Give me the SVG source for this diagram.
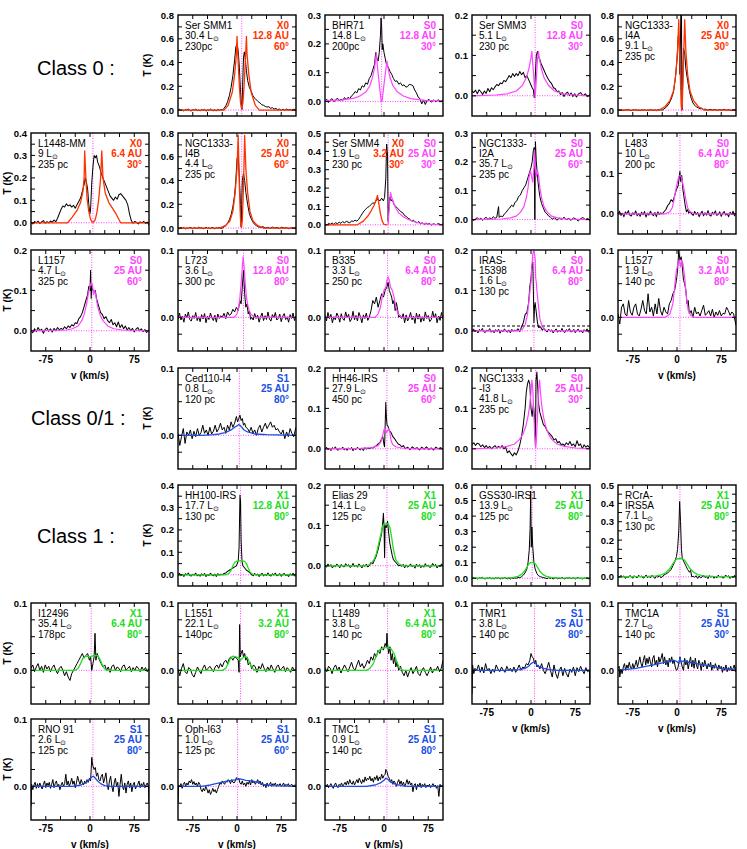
<svg xmlns="http://www.w3.org/2000/svg" xmlns:xlink="http://www.w3.org/1999/xlink" width="747" height="849" viewBox="0 0 747 849">
<style>
.b,.r,.m,.g,.u,.z,.k{fill:none;stroke-width:1;vector-effect:non-scaling-stroke;stroke-linejoin:round}
.b{stroke:#000}
.r{stroke:#ff3300;stroke-width:1.3}
.m{stroke:#ff44ff;stroke-width:1.2}
.g{stroke:#22dd22;stroke-width:1.3}
.u{stroke:#1a4fe6;stroke-width:1.3}
.z{stroke:#ff44ff;stroke-dasharray:1 1.5}
.k{stroke:#000;stroke-dasharray:3 2}
.box{fill:none;stroke:#000;stroke-width:1.4}
.tk{fill:none;stroke:#000;stroke-width:1}
text{font-family:"Liberation Sans",Arial,sans-serif}
.n{font-size:10px;fill:#000}
.mr{font-size:10px;font-weight:bold;text-anchor:end}
.tl{font-size:9.5px;font-weight:bold;text-anchor:end}
.ax{font-size:10px;font-weight:bold;text-anchor:middle}
.cl{font-size:20px}
.cr{fill:#ff3300}.cm{fill:#ff44ff}.cg{fill:#22dd22}.cu{fill:#1a4fe6}
</style>
<defs>
<path id="nL" class="b" d="M-100 0.3 L-97.5 -0.8 L-95 0.5 L-92.5 -0.2 L-90 0.9 L-87.5 -0.6 L-85 0.1 L-82.5 -1 L-80 0.4 L-77.5 0.7 L-75 -0.3 L-72.5 0.2 L-70 -0.9 L-67.5 0.6 L-65 -0.1 L-62.5 0.8 L-60 -0.5 L-57.5 0.3 L-55 -0.7 L-52.5 1 L-50 -0.2 L-47.5 0.4 L-45 -0.8 L-42.5 0.1 L-40 0.6 L-37.5 -0.4 L-35 0.9 L-32.5 -0.6 L-30 0.2 L-27.5 -0.3 L-25 0"/>
<path id="nR" class="b" d="M25 0 L27.5 0.5 L30 -0.7 L32.5 0.2 L35 -0.4 L37.5 0.9 L40 -0.1 L42.5 -0.8 L45 0.6 L47.5 -0.3 L50 0.4 L52.5 -1 L55 0.3 L57.5 0.7 L60 -0.5 L62.5 0.1 L65 -0.9 L67.5 0.5 L70 0.2 L72.5 -0.6 L75 0.8 L77.5 -0.2 L80 -0.7 L82.5 0.4 L85 -0.1 L87.5 0.9 L90 -0.5 L92.5 0.2 L95 -0.8 L97.5 0.6 L100 -0.3"/>
<path id="xt" class="tk" d="M14.75 0v4M29.5 0v4M44.25 0v4M59 0v4M73.75 0v4M88.5 0v4M103.25 0v4M14.75 101v-4M29.5 101v-4M44.25 101v-4M59 101v-4M73.75 101v-4M88.5 101v-4M103.25 101v-4"/>
<path id="yt1" class="tk" d="M0 16.8h4M0 33.7h4M0 50.5h4M0 67.3h4M0 84.2h4M118 16.8h-4M118 33.7h-4M118 50.5h-4M118 67.3h-4M118 84.2h-4"/>
<path id="yt2" class="tk" d="M0 20.2h4M0 40.4h4M0 60.6h4M0 80.8h4M118 20.2h-4M118 40.4h-4M118 60.6h-4M118 80.8h-4"/>
<path id="yt3" class="tk" d="M0 14.4h4M0 28.9h4M0 43.3h4M0 57.7h4M0 72.1h4M0 86.6h4M118 14.4h-4M118 28.9h-4M118 43.3h-4M118 57.7h-4M118 72.1h-4M118 86.6h-4"/>
<path id="yt4" class="tk" d="M0 11.2h4M0 22.4h4M0 33.7h4M0 44.9h4M0 56.1h4M0 67.3h4M0 78.6h4M0 89.8h4M118 11.2h-4M118 22.4h-4M118 33.7h-4M118 44.9h-4M118 56.1h-4M118 67.3h-4M118 78.6h-4M118 89.8h-4"/>
<path id="yt5" class="tk" d="M0 9.2h4M0 18.4h4M0 27.5h4M0 36.7h4M0 45.9h4M0 55.1h4M0 64.3h4M0 73.5h4M0 82.6h4M0 91.8h4M118 9.2h-4M118 18.4h-4M118 27.5h-4M118 36.7h-4M118 45.9h-4M118 55.1h-4M118 64.3h-4M118 73.5h-4M118 82.6h-4M118 91.8h-4"/>
<path id="yt6" class="tk" d="M0 15.5h4M0 31.1h4M0 46.6h4M0 62.2h4M0 77.7h4M0 93.2h4M118 15.5h-4M118 31.1h-4M118 46.6h-4M118 62.2h-4M118 77.7h-4M118 93.2h-4"/>
<path id="yt8" class="tk" d="M0 11.9h4M0 23.8h4M0 35.6h4M0 47.5h4M0 59.4h4M0 71.3h4M0 83.2h4M0 95.1h4M118 11.9h-4M118 23.8h-4M118 35.6h-4M118 47.5h-4M118 59.4h-4M118 71.3h-4M118 83.2h-4M118 95.1h-4"/>
</defs>

<text class="cl" x="37" y="75">Class 0 :</text>
<text class="cl" x="31" y="425">Class 0/1 :</text>
<text class="cl" x="37" y="543">Class 1 :</text>

<g id="connectors"></g>

<!-- Row 0 -->
<g id="p-sersmm1" transform="translate(178,15)">
<svg width="118" height="101" viewBox="-100 -800 200 850" preserveAspectRatio="none">
<path class="z" d="M-100 0H100M8 -900V60"/>
<use href="#nL" transform="scale(1,10)"/>
<path class="b" d="M-25 0 L-22 -15 L-19 -35 L-16 -70 L-13 -120 L-10 -190 L-7 -290 L-4 -420 L-2 -530 L0 -560 L2 -500 L4 -360 L6 -150 L7.5 -20 L8.5 -5 L9.5 -200 L11 -440 L12.5 -490 L14 -430 L16 -330 L18 -250 L21 -190 L24 -160 L27 -120 L30 -100 L33 -85 L36 -70 L39 -60 L42 -45 L45 -40 L48 -30 L51 -25 L54 -28 L57 -15 L60 -20 L63 -8 L66 -14 L69 -2 L72 -10 L75 5 L78 -8 L81 2 L84 -9 L87 0 L90 -6 L93 3 L96 -7 L100 -2"/>
<path class="r" d="M-100 0 H-22 L-15 -40 L-8 -150 L-4 -300 L-1 -470 L0 -620 L2 -400 L4 -200 L6 -60 L8 -10 L10 -60 L12 -200 L14 -400 L16 -620 L17 -470 L20 -300 L24 -150 L31 -40 L38 0 H100"/>
</svg>
<rect class="box" width="118" height="101"/><use href="#xt"/><use href="#yt8"/>
<text class="tl"><tspan x="-4" y="3.5">0.8</tspan><tspan x="-4" y="27.3">0.6</tspan><tspan x="-4" y="51">0.4</tspan><tspan x="-4" y="74.8">0.2</tspan><tspan x="-4" y="98.6">0.0</tspan></text>
<text class="ax" transform="translate(-27,50) rotate(-90)">T (K)</text>
<text class="n" x="7" y="14">Ser SMM1</text><text class="n" x="7" y="24">30.4 L<tspan dy="2" font-size="7">⊙</tspan></text><text class="n" x="7" y="35">230pc</text>
<text class="mr cr" x="111" y="14">X0</text><text class="mr cr" x="111" y="24">12.8 AU</text><text class="mr cr" x="111" y="35">60°</text>
</g>

<g id="p-bhr71" transform="translate(325,15)">
<svg width="118" height="101" viewBox="-100 -300 200 350" preserveAspectRatio="none">
<path class="z" d="M-100 0H100M-4 -400V60"/>
<path class="b" d="M-100 -2 L-97 -8 L-94 3 L-91 -6 L-88 -10 L-85 0 L-82 -5 L-79 -12 L-76 -3 L-73 -8 L-70 -4 L-67 -14 L-64 -6 L-61 -15 L-58 -10 L-55 -20 L-52 -25 L-49 -35 L-46 -30 L-43 -45 L-40 -40 L-37 -55 L-34 -50 L-31 -65 L-28 -60 L-25 -80 L-22 -90 L-19 -110 L-16 -130 L-14 -170 L-12 -150 L-10 -140 L-8 -170 L-6 -230 L-5 -290 L-4 -260 L-3 -180 L-2 -200 L0 -170 L2 -150 L4 -130 L7 -120 L10 -105 L13 -95 L16 -80 L19 -70 L22 -72 L25 -60 L28 -65 L31 -55 L34 -58 L37 -50 L40 -52 L43 -60 L46 -58 L49 -55 L52 -40 L55 -30 L58 -15 L61 -10 L64 8 L67 -5 L70 10 L73 -3 L76 -8 L80 2 L84 -5 L88 0 L92 -6 L96 -2 L100 -4"/>
<path class="m" d="M-100 -3 L-70 -6 L-50 -12 L-40 -20 L-30 -35 L-24 -55 L-20 -80 L-16 -115 L-14 -150 L-13 -170 L-11 -120 L-8 -60 L-5 -5 L-4 0 L-3 -5 L0 -60 L3 -110 L5 -140 L7 -115 L10 -85 L15 -55 L22 -35 L32 -20 L45 -10 L70 -4 L100 -2"/>
</svg>
<rect class="box" width="118" height="101"/><use href="#xt"/><use href="#yt3"/>
<text class="tl"><tspan x="-4" y="3.5">0.3</tspan><tspan x="-4" y="32.4">0.2</tspan><tspan x="-4" y="61.2">0.1</tspan><tspan x="-4" y="90.1">0.0</tspan></text>
<text class="n" x="7" y="14">BHR71</text><text class="n" x="7" y="24">14.8 L<tspan dy="2" font-size="7">⊙</tspan></text><text class="n" x="7" y="35">200pc</text>
<text class="mr cm" x="111" y="14">S0</text><text class="mr cm" x="111" y="24">12.8 AU</text><text class="mr cm" x="111" y="35">30°</text>
</g>

<g id="p-sersmm3" transform="translate(472,15)">
<svg width="118" height="101" viewBox="-100 -200 200 250" preserveAspectRatio="none">
<path class="z" d="M-100 0H100M7 -300V60"/>
<path class="b" d="M-100 -12 L-97 -8 L-94 -14 L-91 -5 L-88 -15 L-85 -10 L-82 -3 L-79 -12 L-76 -6 L-73 -18 L-70 -10 L-67 -20 L-64 -15 L-61 -22 L-58 -28 L-55 -25 L-52 -32 L-49 -30 L-46 -38 L-43 -35 L-40 -42 L-37 -50 L-34 -45 L-31 -55 L-28 -48 L-25 -55 L-22 -50 L-19 -60 L-16 -52 L-13 -58 L-10 -45 L-7 -50 L-4 -40 L-1 -30 L2 -20 L4 -15 L5.5 5 L7 -40 L9 -100 L11 -110 L13 -95 L15 -90 L17 -80 L20 -70 L23 -60 L26 -50 L29 -42 L32 -35 L35 -30 L38 -20 L41 -18 L44 -10 L47 -12 L50 -3 L53 -8 L56 2 L59 -6 L62 -9 L65 -1 L68 -7 L71 2 L74 -5 L77 3 L80 -4 L84 -8 L88 0 L92 -5 L96 2 L100 -3"/>
<path class="m" d="M-100 0 L-60 -2 L-40 -5 L-25 -12 L-15 -25 L-8 -45 L-3 -70 L0 -95 L1.5 -110 L3 -80 L5 -40 L7 5 L9 -40 L11 -90 L12.5 -110 L14 -95 L17 -70 L22 -45 L30 -25 L40 -12 L55 -5 L75 -2 L100 0"/>
</svg>
<rect class="box" width="118" height="101"/><use href="#xt"/><use href="#yt2"/>
<text class="tl"><tspan x="-4" y="3.5">0.2</tspan><tspan x="-4" y="43.9">0.1</tspan><tspan x="-4" y="84.3">0.0</tspan></text>
<text class="n" x="7" y="14">Ser SMM3</text><text class="n" x="7" y="24">5.1 L<tspan dy="2" font-size="7">⊙</tspan></text><text class="n" x="7" y="35">230 pc</text>
<text class="mr cm" x="111" y="14">S0</text><text class="mr cm" x="111" y="24">12.8 AU</text><text class="mr cm" x="111" y="35">30°</text>
</g>

<g id="p-ngc1333i4a" transform="translate(618,15)">
<svg width="118" height="101" viewBox="-100 -800 200 850" preserveAspectRatio="none">
<path class="z" d="M-100 0H100M8 -900V60"/>
<use href="#nL" transform="scale(1,6)"/>
<path class="b" d="M-25 0 L-22 -10 L-18 -25 L-14 -50 L-10 -90 L-6 -150 L-3 -260 L0 -420 L2 -620 L3.5 -600 L5 -300 L6.5 -820 L7.5 -820 L8.5 0 L10 -300 L11 -520 L13 -480 L15 -350 L18 -250 L21 -160 L24 -100 L27 -60 L30 -40 L33 -25 L36 -20 L39 -10 L42 -15 L45 -5 L48 -8 L52 2 L56 -6 L60 0 L64 -5 L68 3 L72 -4 L76 1 L80 -6 L84 2 L88 -3 L92 4 L96 -5 L100 0"/>
<path class="r" d="M-100 0 L-30 0 L-20 -30 L-12 -80 L-6 -160 L-2 -300 L1 -500 L3 -760 L5 -400 L7 -50 L8 0 L9 -50 L11 -400 L13 -760 L15 -500 L18 -300 L22 -160 L28 -80 L36 -30 L46 0 L100 0"/>
</svg>
<rect class="box" width="118" height="101"/><use href="#xt"/><use href="#yt8"/>
<text class="tl"><tspan x="-4" y="3.5">0.8</tspan><tspan x="-4" y="27.3">0.6</tspan><tspan x="-4" y="51">0.4</tspan><tspan x="-4" y="74.8">0.2</tspan><tspan x="-4" y="98.6">0.0</tspan></text>
<text class="n" x="7" y="14">NGC1333-</text><text class="n" x="7" y="24">I4A</text><text class="n" x="7" y="34">9.1 L<tspan dy="2" font-size="7">⊙</tspan></text><text class="n" x="7" y="45">235 pc</text>
<text class="mr cr" x="111" y="14">X0</text><text class="mr cr" x="111" y="24">25 AU</text><text class="mr cr" x="111" y="35">30°</text>
</g>

<!-- Row 1 -->
<g id="p-l1448mm" transform="translate(31,133)">
<svg width="118" height="101" viewBox="-100 -400 200 450" preserveAspectRatio="none">
<path class="z" d="M-100 0H100M5 -500V60"/>
<path class="b" d="M-100 -2 L-97 5 L-94 -6 L-91 0 L-88 -8 L-85 3 L-82 -4 L-79 -10 L-76 2 L-73 -5 L-70 0 L-67 -8 L-64 -3 L-61 -12 L-58 -5 L-55 -20 L-52 -40 L-49 -60 L-46 -75 L-43 -70 L-40 -85 L-37 -75 L-34 -80 L-31 -70 L-28 -78 L-25 -65 L-22 -80 L-19 -95 L-16 -110 L-13 -140 L-10 -170 L-8 -200 L-6 -180 L-4 -150 L-2 -80 L0 -40 L1 -60 L3 -180 L5 -250 L7 -300 L9 -290 L11 -300 L13 -270 L16 -250 L19 -220 L22 -200 L25 -180 L28 -160 L31 -140 L34 -120 L37 -110 L40 -100 L43 -115 L46 -105 L49 -125 L52 -130 L55 -120 L58 -110 L61 -100 L64 -80 L67 -40 L70 -10 L73 2 L76 -6 L79 -2 L82 5 L85 -4 L88 0 L91 -6 L94 2 L97 -3 L100 10"/>
<path class="r" d="M-100 0 L-38 0 L-30 -25 L-22 -55 L-16 -90 L-12 -140 L-10 -200 L-9 -320 L-7 -200 L-5 -110 L-2 -50 L1 -15 L4 -3 L6 -3 L9 -15 L12 -50 L15 -110 L18 -200 L20 -320 L22 -200 L26 -130 L32 -90 L38 -65 L44 -40 L48 -20 L52 0 L100 0"/>
</svg>
<rect class="box" width="118" height="101"/><use href="#xt"/><use href="#yt4"/>
<text class="tl"><tspan x="-4" y="3.5">0.4</tspan><tspan x="-4" y="25.9">0.3</tspan><tspan x="-4" y="48.4">0.2</tspan><tspan x="-4" y="70.8">0.1</tspan><tspan x="-4" y="93.3">0.0</tspan></text>
<text class="ax" transform="translate(-20,50) rotate(-90)">T (K)</text>
<text class="n" x="7" y="14">L1448-MM</text><text class="n" x="7" y="24">9 L<tspan dy="2" font-size="7">⊙</tspan></text><text class="n" x="7" y="35">235 pc</text>
<text class="mr cr" x="111" y="14">X0</text><text class="mr cr" x="111" y="24">6.4 AU</text><text class="mr cr" x="111" y="35">30°</text>
</g>

<g id="p-ngc1333i4b" transform="translate(178,133)">
<svg width="118" height="101" viewBox="-100 -800 200 850" preserveAspectRatio="none">
<path class="z" d="M-100 0H100M8 -900V60"/>
<use href="#nR" transform="scale(-1,8)"/>
<path class="b" d="M-25 0 L-22 -10 L-19 -20 L-16 -40 L-13 -70 L-10 -110 L-7 -180 L-4 -280 L-2 -400 L0 -580 L2 -620 L4 -420 L6 -200 L7 -10 L8 -200 L9 -400 L11 -460 L13 -400 L15 -300 L18 -200 L21 -120 L24 -80 L27 -50 L30 -30 L33 -20 L36 -10 L40 -5 L44 -12 L48 0 L52 -6 L56 3 L60 -8 L64 0 L68 -5 L72 4 L76 -7 L80 1 L84 -4 L88 6 L92 -3 L96 2 L100 -5"/>
<path class="r" d="M-100 0 L-30 0 L-20 -20 L-12 -60 L-7 -140 L-3 -300 L0 -500 L2 -780 L4 -350 L6 -60 L7.5 -5 L9 -60 L11 -350 L13 -780 L15 -500 L18 -300 L22 -140 L27 -60 L35 -20 L45 0 L100 0"/>
</svg>
<rect class="box" width="118" height="101"/><use href="#xt"/><use href="#yt8"/>
<text class="tl"><tspan x="-4" y="3.5">0.8</tspan><tspan x="-4" y="27.3">0.6</tspan><tspan x="-4" y="51">0.4</tspan><tspan x="-4" y="74.8">0.2</tspan><tspan x="-4" y="98.6">0.0</tspan></text>
<text class="n" x="7" y="14">NGC1333-</text><text class="n" x="7" y="24">I4B</text><text class="n" x="7" y="34">4.4 L<tspan dy="2" font-size="7">⊙</tspan></text><text class="n" x="7" y="45">235 pc</text>
<text class="mr cr" x="111" y="14">X0</text><text class="mr cr" x="111" y="24">25 AU</text><text class="mr cr" x="111" y="35">60°</text>
</g>

<g id="p-sersmm4" transform="translate(325,133)">
<svg width="118" height="101" viewBox="-100 -500 200 550" preserveAspectRatio="none">
<path class="z" d="M-100 0H100M7 -600V60"/>
<path class="b" d="M-100 -5 L-97 2 L-94 -8 L-91 -3 L-88 -10 L-85 -2 L-82 -12 L-79 -5 L-76 -15 L-73 -8 L-70 -18 L-67 -10 L-64 -20 L-61 -15 L-58 -10 L-55 -22 L-52 -18 L-49 -25 L-46 -20 L-43 -30 L-40 -45 L-37 -60 L-34 -75 L-31 -85 L-28 -95 L-25 -100 L-22 -110 L-19 -120 L-16 -115 L-13 -135 L-10 -140 L-7 -130 L-4 -145 L-1 -130 L1 -150 L3 -250 L4.5 -440 L6 -380 L7 -20 L8 -80 L10 -150 L12 -130 L14 -140 L17 -110 L20 -100 L23 -90 L26 -80 L29 -70 L32 -65 L35 -50 L38 -45 L41 -35 L44 -30 L47 -20 L50 -25 L53 -15 L56 -10 L59 -18 L62 -5 L65 -12 L68 -2 L71 -10 L74 -3 L77 -8 L80 2 L84 -6 L88 0 L92 -7 L96 -1 L100 -4"/>
<path class="r" d="M-100 0 L-45 0 L-35 -20 L-28 -45 L-22 -75 L-17 -105 L-13 -140 L-11 -160 L-9 -120 L-6 -60 L-3 -20 L0 -2 L5 0"/>
<path class="m" d="M5 0 L7 -5 L9 -100 L11 -175 L13 -150 L16 -120 L20 -90 L25 -65 L32 -45 L40 -30 L50 -18 L60 -10 L75 -4 L100 0"/>
</svg>
<rect class="box" width="118" height="101"/><use href="#xt"/><use href="#yt5"/>
<text class="tl"><tspan x="-4" y="3.5">0.5</tspan><tspan x="-4" y="21.9">0.4</tspan><tspan x="-4" y="40.2">0.3</tspan><tspan x="-4" y="58.6">0.2</tspan><tspan x="-4" y="77">0.1</tspan><tspan x="-4" y="95.3">0.0</tspan></text>
<text class="n" x="7" y="14">Ser SMM4</text><text class="n" x="7" y="24">1.9 L<tspan dy="2" font-size="7">⊙</tspan></text><text class="n" x="7" y="35">230 pc</text>
<text class="mr cr" x="79" y="14">X0</text><text class="mr cr" x="79" y="24">3.2 AU</text><text class="mr cr" x="79" y="35">30°</text>
<text class="mr cm" x="111" y="14">S0</text><text class="mr cm" x="111" y="24">25 AU</text><text class="mr cm" x="111" y="35">30°</text>
</g>

<g id="p-ngc1333i2a" transform="translate(472,133)">
<svg width="118" height="101" viewBox="-100 -300 200 350" preserveAspectRatio="none">
<path class="z" d="M-100 0H100M7 -400V60"/>
<path class="b" d="M-100 -2 L-97 4 L-94 -3 L-91 -6 L-88 0 L-85 -5 L-82 3 L-79 -4 L-76 -8 L-73 0 L-70 -6 L-67 -2 L-64 -10 L-61 -4 L-58 -8 L-55 -45 L-54 -8 L-51 -12 L-48 -10 L-45 -20 L-42 -25 L-39 -35 L-36 -40 L-33 -50 L-30 -45 L-27 -60 L-24 -65 L-21 -80 L-18 -85 L-15 -100 L-12 -110 L-9 -120 L-6 -140 L-3 -160 L0 -180 L2 -200 L4 -240 L5.5 -250 L6.5 0 L7.5 -270 L9 -200 L11 -150 L13 -110 L15 -80 L18 -55 L21 -40 L24 -25 L27 -20 L30 -12 L33 -8 L36 -2 L40 -6 L44 2 L48 -5 L52 -1 L56 -8 L60 0 L64 -4 L68 3 L72 -6 L76 -2 L80 5 L84 -3 L88 -7 L92 0 L96 -4 L100 2"/>
<path class="m" d="M-100 0 L-50 -2 L-35 -6 L-25 -12 L-18 -25 L-12 -45 L-8 -75 L-5 -110 L-3 -150 L-1 -170 L1 -150 L3 -130 L5 -180 L6 -240 L7.5 -180 L9 -150 L11 -170 L13 -150 L15 -110 L18 -75 L22 -45 L28 -25 L35 -12 L45 -6 L60 -2 L100 0"/>
</svg>
<rect class="box" width="118" height="101"/><use href="#xt"/><use href="#yt3"/>
<text class="tl"><tspan x="-4" y="3.5">0.3</tspan><tspan x="-4" y="32.4">0.2</tspan><tspan x="-4" y="61.2">0.1</tspan><tspan x="-4" y="90.1">0.0</tspan></text>
<text class="n" x="7" y="14">NGC1333-</text><text class="n" x="7" y="24">I2A</text><text class="n" x="7" y="34">35.7 L<tspan dy="2" font-size="7">⊙</tspan></text><text class="n" x="7" y="45">235 pc</text>
<text class="mr cm" x="111" y="14">S0</text><text class="mr cm" x="111" y="24">25 AU</text><text class="mr cm" x="111" y="35">60°</text>
</g>

<g id="p-l483" transform="translate(618,133)">
<svg width="118" height="101" viewBox="-100 -200 200 250" preserveAspectRatio="none">
<path class="z" d="M-100 0H100M5 -300V60"/>
<use href="#nL" transform="scale(1,8)"/><use href="#nR" transform="scale(1,8)"/>
<path class="b" d="M-25 0 L-22 -5 L-19 -10 L-16 -20 L-13 -25 L-10 -35 L-7 -30 L-4 -45 L-1 -60 L2 -70 L4 -95 L5 -105 L6 -80 L8 -95 L10 -60 L12 -40 L14 -20 L16 -5 L18 -10 L20 -2 L22 -5 L25 0"/>
<path class="m" d="M-100 0 L-20 0 L-12 -5 L-8 -15 L-5 -35 L-2 -60 L1 -80 L3 -92 L5 -95 L7 -92 L9 -80 L12 -60 L15 -35 L18 -15 L22 -5 L30 0 L100 0"/>
</svg>
<rect class="box" width="118" height="101"/><use href="#xt"/><use href="#yt2"/>
<text class="tl"><tspan x="-4" y="3.5">0.2</tspan><tspan x="-4" y="43.9">0.1</tspan><tspan x="-4" y="84.3">0.0</tspan></text>
<text class="n" x="7" y="14">L483</text><text class="n" x="7" y="24">10 L<tspan dy="2" font-size="7">⊙</tspan></text><text class="n" x="7" y="35">200 pc</text>
<text class="mr cm" x="111" y="14">S0</text><text class="mr cm" x="111" y="24">6.4 AU</text><text class="mr cm" x="111" y="35">80°</text>
</g>

<!-- Row 2 -->
<g id="p-l1157" transform="translate(31,250)">
<svg width="118" height="101" viewBox="-100 -200 200 250" preserveAspectRatio="none">
<path class="z" d="M-100 0H100M3 -300V60"/>
<path class="b" d="M-100 -2 L-97 5 L-94 -5 L-91 2 L-88 -8 L-85 0 L-82 -4 L-79 6 L-76 -3 L-73 -7 L-70 1 L-67 -5 L-64 3 L-61 -6 L-58 0 L-55 -8 L-52 -2 L-49 -6 L-46 -3 L-43 -10 L-40 -5 L-37 -12 L-34 -8 L-31 -15 L-28 -12 L-25 -20 L-22 -18 L-19 -30 L-16 -35 L-13 -45 L-10 -60 L-7 -75 L-4 -90 L-2 -110 L0 -100 L1 -150 L2 -80 L3 -110 L5 -100 L7 -95 L9 -100 L11 -80 L13 -70 L15 -60 L18 -45 L21 -40 L24 -30 L27 -35 L30 -25 L33 -20 L36 -28 L39 -15 L42 -20 L45 -10 L48 -22 L51 -8 L54 -15 L57 -5 L60 -12 L63 -2 L66 -8 L69 0 L72 -6 L75 3 L78 -4 L81 -8 L84 0 L87 -5 L90 2 L93 -3 L96 4 L100 -2"/>
<path class="m" d="M-100 0 L-40 -2 L-30 -5 L-20 -12 L-14 -25 L-10 -40 L-6 -65 L-3 -90 L0 -110 L2 -120 L4 -115 L6 -90 L8 -100 L10 -85 L13 -60 L17 -40 L22 -25 L30 -12 L40 -5 L55 -2 L100 0"/>
</svg>
<rect class="box" width="118" height="101"/><use href="#xt"/><use href="#yt2"/>
<text class="tl"><tspan x="-4" y="3.5">0.2</tspan><tspan x="-4" y="43.9">0.1</tspan><tspan x="-4" y="84.3">0.0</tspan></text>
<text class="ax" transform="translate(-20,50) rotate(-90)">T (K)</text>
<text class="ax"><tspan x="14.75" y="113">-75</tspan><tspan x="59" y="113">0</tspan><tspan x="103.25" y="113">75</tspan></text><text class="ax" x="59" y="129">v (km/s)</text>
<text class="n" x="7" y="14">L1157</text><text class="n" x="7" y="24">4.7 L<tspan dy="2" font-size="7">⊙</tspan></text><text class="n" x="7" y="35">325 pc</text>
<text class="mr cm" x="111" y="14">S0</text><text class="mr cm" x="111" y="24">25 AU</text><text class="mr cm" x="111" y="35">60°</text>
</g>

<g id="p-l723" transform="translate(178,250)">
<svg width="118" height="101" viewBox="-100 -100 200 150" preserveAspectRatio="none">
<path class="z" d="M-100 0H100M11 -200V60"/>
<use href="#nL" transform="scale(1,8)"/><use href="#nR" transform="scale(1,8)"/>
<path class="b" d="M-25 0 L-22 -6 L-19 2 L-16 -8 L-13 -3 L-10 -5 L-7 -12 L-4 -8 L-1 -15 L2 -10 L5 -25 L7 -20 L9 -45 L11 -70 L13 -35 L15 -15 L17 -20 L19 -5 L21 -10 L23 3 L25 0"/>
<path class="m" d="M-100 0 L-5 0 L0 -5 L3 -15 L5 -30 L7 -50 L9 -75 L10.5 -90 L12 -75 L14 -50 L16 -30 L19 -15 L23 -5 L30 0 L100 0"/>
</svg>
<rect class="box" width="118" height="101"/><use href="#xt"/><use href="#yt1"/>
<text class="tl"><tspan x="-4" y="3.5">0.1</tspan><tspan x="-4" y="70.8">0.0</tspan></text>
<text class="n" x="7" y="14">L723</text><text class="n" x="7" y="24">3.6 L<tspan dy="2" font-size="7">⊙</tspan></text><text class="n" x="7" y="35">300 pc</text>
<text class="mr cm" x="111" y="14">S0</text><text class="mr cm" x="111" y="24">12.8 AU</text><text class="mr cm" x="111" y="35">80°</text>
</g>

<g id="p-b335" transform="translate(325,250)">
<svg width="118" height="101" viewBox="-100 -100 200 150" preserveAspectRatio="none">
<path class="z" d="M-100 0H100M6 -200V60"/>
<use href="#nR" transform="scale(-1,9)"/><use href="#nL" transform="scale(-1,9)"/>
<path class="b" d="M-25 0 L-22 -10 L-19 -25 L-16 -20 L-13 -30 L-10 -15 L-7 -25 L-4 -35 L-1 -30 L2 -40 L5 -45 L7 -52 L9 -40 L11 -35 L13 -30 L15 -20 L17 -25 L19 -10 L21 -22 L23 -12 L25 0"/>
<path class="m" d="M-100 0 L-15 0 L-10 -5 L-6 -15 L-3 -30 L0 -40 L3 -45 L5 -55 L7 -60 L9 -55 L11 -45 L14 -40 L17 -30 L20 -15 L24 -5 L30 0 L100 0"/>
</svg>
<rect class="box" width="118" height="101"/><use href="#xt"/><use href="#yt1"/>
<text class="tl"><tspan x="-4" y="3.5">0.1</tspan><tspan x="-4" y="70.8">0.0</tspan></text>
<text class="n" x="7" y="14">B335</text><text class="n" x="7" y="24">3.3 L<tspan dy="2" font-size="7">⊙</tspan></text><text class="n" x="7" y="35">250 pc</text>
<text class="mr cm" x="111" y="14">S0</text><text class="mr cm" x="111" y="24">6.4 AU</text><text class="mr cm" x="111" y="35">80°</text>
</g>

<g id="p-iras15398" transform="translate(472,250)">
<svg width="118" height="101" viewBox="-100 -200 200 250" preserveAspectRatio="none">
<path class="z" d="M-100 0H100M5 -300V60"/>
<path class="k" d="M-100 -12H100"/>
<use href="#nL" transform="scale(1,6)"/><use href="#nR" transform="scale(1,6)"/>
<path class="b" d="M-25 0 L-22 -5 L-19 2 L-16 -10 L-13 -20 L-10 -40 L-7 -45 L-4 -70 L-2 -110 L0 -130 L1.5 -160 L3 -170 L4 -100 L5 -20 L6 -60 L7 -70 L9 -45 L11 -20 L13 -8 L16 -10 L19 -2 L22 -6 L25 0"/>
<path class="m" d="M-100 0 L-20 0 L-14 -5 L-10 -15 L-6 -40 L-3 -80 L-1 -110 L0 -120 L1 -150 L3 -190 L5 -200 L7 -180 L8 -130 L9 -120 L10 -100 L12 -70 L15 -30 L19 -10 L25 -2 L35 0 L100 0"/>
</svg>
<rect class="box" width="118" height="101"/><use href="#xt"/><use href="#yt2"/>
<text class="tl"><tspan x="-4" y="3.5">0.2</tspan><tspan x="-4" y="43.9">0.1</tspan><tspan x="-4" y="84.3">0.0</tspan></text>
<text class="n" x="7" y="14">IRAS-</text><text class="n" x="7" y="24">15398</text><text class="n" x="7" y="34">1.6 L<tspan dy="2" font-size="7">⊙</tspan></text><text class="n" x="7" y="45">130 pc</text>
<text class="mr cm" x="111" y="14">S0</text><text class="mr cm" x="111" y="24">6.4 AU</text><text class="mr cm" x="111" y="35">80°</text>
</g>

<g id="p-l1527" transform="translate(618,250)">
<svg width="118" height="101" viewBox="-100 -100 200 150" preserveAspectRatio="none">
<path class="z" d="M-100 0H100M5 -200V60"/>
<path class="b" d="M-100 -5 L-97 10 L-94 -15 L-91 -20 L-88 -5 L-85 -2 L-82 -25 L-79 -8 L-76 -3 L-73 -15 L-70 -20 L-67 -5 L-64 -2 L-61 -12 L-58 -25 L-55 -10 L-52 -5 L-49 -35 L-46 -8 L-43 -15 L-40 -2 L-37 -20 L-34 -5 L-31 -28 L-28 -10 L-25 -3 L-22 -15 L-19 -8 L-16 -5 L-13 -20 L-10 -25 L-7 -35 L-4 -40 L-1 -55 L1 -70 L3 -100 L5 -85 L7 -90 L9 -75 L11 -55 L13 -50 L15 -40 L17 -20 L19 -25 L21 -5 L24 -10 L27 0 L30 -15 L33 -5 L36 -8 L39 -2 L42 -10 L45 -18 L48 -3 L51 -6 L54 -10 L57 -2 L60 -12 L63 0 L66 -8 L69 -3 L72 -10 L75 -2 L78 -6 L81 -5 L84 -15 L87 -10 L90 -3 L93 -8 L96 -5 L100 12"/>
<path class="m" d="M-100 0 L-20 0 L-12 -5 L-7 -20 L-4 -45 L-1 -70 L2 -80 L4 -85 L6 -75 L8 -85 L10 -80 L13 -60 L16 -30 L19 -10 L23 -3 L30 0 L100 0"/>
</svg>
<rect class="box" width="118" height="101"/><use href="#xt"/><use href="#yt1"/>
<text class="tl"><tspan x="-4" y="3.5">0.1</tspan><tspan x="-4" y="70.8">0.0</tspan></text>
<text class="ax"><tspan x="14.75" y="113">-75</tspan><tspan x="59" y="113">0</tspan><tspan x="103.25" y="113">75</tspan></text><text class="ax" x="59" y="129">v (km/s)</text>
<text class="n" x="7" y="14">L1527</text><text class="n" x="7" y="24">1.9 L<tspan dy="2" font-size="7">⊙</tspan></text><text class="n" x="7" y="35">140 pc</text>
<text class="mr cm" x="111" y="14">S0</text><text class="mr cm" x="111" y="24">3.2 AU</text><text class="mr cm" x="111" y="35">80°</text>
</g>

<!-- Row 3 -->
<g id="p-ced110" transform="translate(178,368)">
<svg width="118" height="101" viewBox="-100 -100 200 150" preserveAspectRatio="none">
<path class="z" d="M-100 0H100M4 -200V60"/>
<path class="b" d="M-100 -3 L-97 15 L-94 2 L-91 -10 L-88 12 L-85 -5 L-82 0 L-79 -8 L-76 5 L-73 -6 L-70 2 L-67 -10 L-64 0 L-61 -4 L-58 -15 L-55 -3 L-52 -8 L-49 0 L-46 -12 L-43 -2 L-40 -6 L-37 -15 L-34 -5 L-31 -10 L-28 -18 L-25 -8 L-22 -12 L-19 -3 L-16 -15 L-13 -8 L-10 -20 L-7 -12 L-4 -18 L-1 -28 L1 -20 L3 -25 L5 -30 L7 -22 L9 -25 L11 -15 L13 -18 L15 -12 L18 -10 L21 -5 L24 -12 L27 -3 L30 -8 L33 0 L36 -10 L39 -15 L42 -5 L45 -12 L48 -18 L51 -10 L54 -15 L57 -20 L60 -12 L63 -15 L66 -8 L69 -10 L72 -5 L75 -2 L78 -8 L81 5 L84 -5 L87 2 L90 -10 L93 -3 L96 2 L100 -12"/>
<path class="u" d="M-100 0 L-60 0 L-40 -1 L-30 -2 L-20 -4 L-10 -8 L-4 -12 L0 -14 L3 -16 L5 -15 L8 -12 L12 -8 L18 -5 L30 -2 L50 -1 L100 0"/>
</svg>
<rect class="box" width="118" height="101"/><use href="#xt"/><use href="#yt1"/>
<text class="tl"><tspan x="-4" y="3.5">0.1</tspan><tspan x="-4" y="70.8">0.0</tspan></text>
<text class="ax" transform="translate(-27,50) rotate(-90)">T (K)</text>
<text class="n" x="7" y="14">Ced110-I4</text><text class="n" x="7" y="24">0.8 L<tspan dy="2" font-size="7">⊙</tspan></text><text class="n" x="7" y="35">120 pc</text>
<text class="mr cu" x="111" y="14">S1</text><text class="mr cu" x="111" y="24">25 AU</text><text class="mr cu" x="111" y="35">80°</text>
</g>

<g id="p-hh46" transform="translate(325,368)">
<svg width="118" height="101" viewBox="-100 -200 200 250" preserveAspectRatio="none">
<path class="z" d="M-100 0H100M5 -300V60"/>
<use href="#nL" transform="scale(1,5)"/>
<path class="b" d="M-25 0 L-22 -3 L-19 -2 L-16 -5 L-13 -8 L-10 -12 L-7 -15 L-4 -25 L-2 -30 L0 -10 L1 -5 L2 -60 L3 -115 L4 -80 L5 -60 L7 -55 L9 -45 L12 -40 L15 -30 L18 -25 L21 -18 L24 -12 L27 -10 L30 -5 L33 -8 L36 0 L40 -4 L44 2 L48 -5 L52 0 L56 -3 L60 3 L64 -4 L68 1 L72 -5 L76 2 L80 -2 L84 3 L88 -4 L92 0 L96 -3 L100 2"/>
<path class="m" d="M-100 0 L-40 -1 L-20 -3 L-10 -8 L-5 -18 L-2 -35 L0 -48 L2 -50 L4 -40 L6 -45 L8 -50 L10 -40 L12 -20 L15 -10 L20 -5 L30 -2 L50 0 L100 0"/>
</svg>
<rect class="box" width="118" height="101"/><use href="#xt"/><use href="#yt2"/>
<text class="tl"><tspan x="-4" y="3.5">0.2</tspan><tspan x="-4" y="43.9">0.1</tspan><tspan x="-4" y="84.3">0.0</tspan></text>
<text class="n" x="7" y="14">HH46-IRS</text><text class="n" x="7" y="24">27.9 L<tspan dy="2" font-size="7">⊙</tspan></text><text class="n" x="7" y="35">450 pc</text>
<text class="mr cm" x="111" y="14">S0</text><text class="mr cm" x="111" y="24">25 AU</text><text class="mr cm" x="111" y="35">60°</text>
</g>

<g id="p-ngc1333i3" transform="translate(472,368)">
<svg width="118" height="101" viewBox="-100 -200 200 250" preserveAspectRatio="none">
<path class="z" d="M-100 0H100M8 -300V60"/>
<path class="b" d="M-100 -10 L-97 -15 L-94 -8 L-91 -14 L-88 -12 L-85 -5 L-82 -10 L-79 -3 L-76 -8 L-73 -2 L-70 -6 L-67 0 L-64 -4 L-61 -8 L-58 -2 L-55 -6 L-52 -2 L-49 -8 L-46 0 L-43 -4 L-40 10 L-37 5 L-34 12 L-31 18 L-28 10 L-25 15 L-22 5 L-19 -10 L-16 -30 L-13 -60 L-10 -100 L-8 -140 L-6 -160 L-4 -170 L-2 -160 L0 -100 L2 -80 L4 -110 L6 -80 L7.5 -5 L8.5 -170 L10 -190 L11.5 -150 L13 -110 L15 -90 L18 -75 L21 -60 L24 -55 L27 -45 L30 -40 L33 -35 L36 -30 L39 -22 L42 -25 L45 -15 L48 -18 L51 -10 L54 -12 L57 -8 L60 -15 L63 -10 L66 -18 L69 -8 L72 -12 L75 -5 L78 -20 L81 -8 L84 -12 L87 0 L90 -10 L93 -4 L96 -8 L100 -2"/>
<path class="m" d="M-100 0 L-60 -2 L-40 -6 L-28 -12 L-20 -22 L-14 -35 L-9 -55 L-5 -80 L-2 -110 L0 -140 L1.5 -170 L3 -150 L5 -80 L7 -20 L8 -3 L9 -20 L11 -80 L13 -150 L14.5 -170 L16 -140 L18 -110 L21 -80 L25 -55 L30 -35 L36 -22 L44 -12 L56 -6 L76 -2 L100 0"/>
</svg>
<rect class="box" width="118" height="101"/><use href="#xt"/><use href="#yt2"/>
<text class="tl"><tspan x="-4" y="3.5">0.2</tspan><tspan x="-4" y="43.9">0.1</tspan><tspan x="-4" y="84.3">0.0</tspan></text>
<text class="n" x="7" y="14">NGC1333</text><text class="n" x="7" y="24">-I3</text><text class="n" x="7" y="34">41.8 L<tspan dy="2" font-size="7">⊙</tspan></text><text class="n" x="7" y="45">235 pc</text>
<text class="mr cm" x="111" y="14">S0</text><text class="mr cm" x="111" y="24">25 AU</text><text class="mr cm" x="111" y="35">30°</text>
</g>

<!-- Row 4 -->
<g id="p-hh100" transform="translate(178,485)">
<svg width="118" height="101" viewBox="-100 -400 200 450" preserveAspectRatio="none">
<path class="z" d="M-100 0H100M6 -500V60"/>
<use href="#nL" transform="scale(1,8)"/><use href="#nR" transform="scale(1,8)"/>
<path class="b" d="M-25 0 L-22 -6 L-19 -8 L-16 -15 L-13 -20 L-10 -25 L-7 -30 L-4 -35 L-1 -40 L2 -60 L3.5 -120 L5 -355 L6 -330 L7 -150 L8.5 -60 L10 -40 L13 -30 L16 -20 L19 -15 L22 -8 L25 0"/>
<path class="g" d="M-100 0 L-20 0 L-14 -5 L-10 -20 L-7 -40 L-4 -55 L-1 -60 L4 -62 L9 -62 L13 -60 L16 -50 L19 -30 L22 -12 L26 -3 L32 0 L100 0"/>
</svg>
<rect class="box" width="118" height="101"/><use href="#xt"/><use href="#yt4"/>
<text class="tl"><tspan x="-4" y="3.5">0.4</tspan><tspan x="-4" y="25.9">0.3</tspan><tspan x="-4" y="48.4">0.2</tspan><tspan x="-4" y="70.8">0.1</tspan><tspan x="-4" y="93.3">0.0</tspan></text>
<text class="ax" transform="translate(-27,50) rotate(-90)">T (K)</text>
<text class="n" x="7" y="14">HH100-IRS</text><text class="n" x="7" y="24">17.7 L<tspan dy="2" font-size="7">⊙</tspan></text><text class="n" x="7" y="35">130 pc</text>
<text class="mr cg" x="111" y="14">X1</text><text class="mr cg" x="111" y="24">12.8 AU</text><text class="mr cg" x="111" y="35">80°</text>
</g>

<g id="p-elias29" transform="translate(325,485)">
<svg width="118" height="101" viewBox="-100 -200 200 250" preserveAspectRatio="none">
<path class="z" d="M-100 0H100M5 -300V60"/>
<use href="#nR" transform="scale(-1,6)"/><use href="#nL" transform="scale(-1,6)"/>
<path class="b" d="M-25 0 L-22 -8 L-19 -5 L-16 -15 L-13 -25 L-10 -40 L-7 -60 L-4 -80 L-2 -110 L-1 -130 L0 -100 L1 -20 L2 -100 L4 -95 L6 -110 L8 -80 L10 -55 L12 -40 L14 -25 L16 -15 L19 -10 L22 -5 L25 0"/>
<path class="g" d="M-100 0 L-30 0 L-22 -5 L-17 -15 L-13 -30 L-9 -55 L-5 -80 L-2 -100 L1 -105 L4 -102 L7 -105 L10 -95 L13 -70 L16 -40 L20 -15 L25 -5 L32 0 L100 0"/>
</svg>
<rect class="box" width="118" height="101"/><use href="#xt"/><use href="#yt2"/>
<text class="tl"><tspan x="-4" y="3.5">0.2</tspan><tspan x="-4" y="43.9">0.1</tspan><tspan x="-4" y="84.3">0.0</tspan></text>
<text class="n" x="7" y="14">Elias 29</text><text class="n" x="7" y="24">14.1 L<tspan dy="2" font-size="7">⊙</tspan></text><text class="n" x="7" y="35">125 pc</text>
<text class="mr cg" x="111" y="14">X1</text><text class="mr cg" x="111" y="24">25 AU</text><text class="mr cg" x="111" y="35">80°</text>
</g>

<g id="p-gss30" transform="translate(472,485)">
<svg width="118" height="101" viewBox="-100 -600 200 650" preserveAspectRatio="none">
<path class="z" d="M-100 0H100M2 -700V60"/>
<use href="#nL" transform="scale(1,6)"/><use href="#nR" transform="scale(1,6)"/>
<path class="b" d="M-25 0 L-22 -5 L-19 -3 L-16 -10 L-13 -20 L-10 -35 L-7 -60 L-5 -100 L-3 -180 L-1.5 -320 L-0.5 -560 L0.5 -200 L1.5 -330 L3 -200 L5 -100 L7 -60 L10 -30 L13 -15 L16 -10 L19 -6 L22 -3 L25 0"/>
<path class="g" d="M-100 0 L-40 -2 L-30 -5 L-22 -12 L-16 -25 L-11 -45 L-7 -70 L-4 -90 L-1 -100 L2 -102 L5 -100 L8 -90 L11 -70 L15 -45 L20 -25 L26 -12 L34 -5 L45 -2 L100 0"/>
</svg>
<rect class="box" width="118" height="101"/><use href="#xt"/><use href="#yt6"/>
<text class="tl"><tspan x="-4" y="3.5">0.6</tspan><tspan x="-4" y="19">0.5</tspan><tspan x="-4" y="34.6">0.4</tspan><tspan x="-4" y="50.1">0.3</tspan><tspan x="-4" y="65.7">0.2</tspan><tspan x="-4" y="81.2">0.1</tspan><tspan x="-4" y="96.7">0.0</tspan></text>
<text class="n" x="7" y="14">GSS30-IRS1</text><text class="n" x="7" y="24">13.9 L<tspan dy="2" font-size="7">⊙</tspan></text><text class="n" x="7" y="35">125 pc</text>
<text class="mr cg" x="111" y="14">X1</text><text class="mr cg" x="111" y="24">25 AU</text><text class="mr cg" x="111" y="35">80°</text>
</g>

<g id="p-rcra" transform="translate(618,485)">
<svg width="118" height="101" viewBox="-100 -500 200 550" preserveAspectRatio="none">
<path class="z" d="M-100 0H100M5 -600V60"/>
<use href="#nR" transform="scale(-1,10)"/><use href="#nL" transform="scale(-1,10)"/>
<path class="b" d="M-25 0 L-22 -10 L-19 -15 L-16 -20 L-13 -30 L-10 -40 L-7 -60 L-4 -80 L-1 -110 L1 -150 L3 -250 L4.5 -410 L6 -300 L7.5 -150 L9 -100 L12 -80 L15 -60 L18 -40 L21 -25 L23 -35 L25 0"/>
<path class="g" d="M-100 0 L-50 -2 L-35 -5 L-25 -12 L-18 -25 L-12 -45 L-7 -70 L-3 -90 L0 -97 L5 -100 L10 -97 L13 -90 L17 -70 L22 -45 L28 -25 L35 -12 L45 -5 L60 -2 L100 0"/>
</svg>
<rect class="box" width="118" height="101"/><use href="#xt"/><use href="#yt5"/>
<text class="tl"><tspan x="-4" y="3.5">0.5</tspan><tspan x="-4" y="21.9">0.4</tspan><tspan x="-4" y="40.2">0.3</tspan><tspan x="-4" y="58.6">0.2</tspan><tspan x="-4" y="77">0.1</tspan><tspan x="-4" y="95.3">0.0</tspan></text>
<text class="n" x="7" y="14">RCrA-</text><text class="n" x="7" y="24">IRS5A</text><text class="n" x="7" y="34">7.1 L<tspan dy="2" font-size="7">⊙</tspan></text><text class="n" x="7" y="45">130 pc</text>
<text class="mr cg" x="111" y="14">X1</text><text class="mr cg" x="111" y="24">25 AU</text><text class="mr cg" x="111" y="35">80°</text>
</g>

<!-- Row 5 -->
<g id="p-i12496" transform="translate(31,603)">
<svg width="118" height="101" viewBox="-100 -100 200 150" preserveAspectRatio="none">
<path class="z" d="M-100 0H100M2 -200V60"/>
<path class="b" d="M-100 -3 L-97 -8 L-94 2 L-91 -5 L-88 -10 L-85 0 L-82 -6 L-79 3 L-76 -8 L-73 -2 L-70 -6 L-67 2 L-64 -4 L-61 -8 L-58 0 L-55 5 L-52 -3 L-49 -6 L-46 0 L-43 8 L-40 2 L-37 10 L-34 15 L-31 5 L-28 0 L-25 -5 L-22 -10 L-19 -15 L-16 -20 L-13 -25 L-10 -18 L-7 -22 L-4 -25 L-1 -15 L1 -20 L3 0 L5 -10 L7 -20 L8.5 -55 L10 -15 L12 -25 L14 -20 L16 -15 L19 -10 L22 -5 L25 -8 L28 0 L31 -5 L34 3 L37 -6 L40 -8 L43 0 L46 -5 L49 -3 L52 2 L55 -6 L58 -8 L61 0 L64 -3 L67 -6 L70 2 L73 -4 L76 0 L79 -6 L82 -3 L85 2 L88 -5 L91 0 L94 -4 L97 2 L100 -3"/>
<path class="g" d="M-100 0 L-25 0 L-20 -3 L-16 -10 L-12 -18 L-8 -21 L0 -20 L6 -22 L12 -22 L16 -18 L20 -10 L24 -3 L28 0 L100 0"/>
</svg>
<rect class="box" width="118" height="101"/><use href="#xt"/><use href="#yt1"/>
<text class="tl"><tspan x="-4" y="3.5">0.1</tspan><tspan x="-4" y="70.8">0.0</tspan></text>
<text class="ax" transform="translate(-20,50) rotate(-90)">T (K)</text>
<text class="n" x="7" y="14">I12496</text><text class="n" x="7" y="24">35.4 L<tspan dy="2" font-size="7">⊙</tspan></text><text class="n" x="7" y="35">178pc</text>
<text class="mr cg" x="111" y="14">X1</text><text class="mr cg" x="111" y="24">6.4 AU</text><text class="mr cg" x="111" y="35">80°</text>
</g>

<g id="p-l1551" transform="translate(178,603)">
<svg width="118" height="101" viewBox="-100 -100 200 150" preserveAspectRatio="none">
<path class="z" d="M-100 0H100M6 -200V60"/>
<path class="b" d="M-100 -2 L-97 8 L-94 -3 L-91 -10 L-88 2 L-85 5 L-82 -4 L-79 -2 L-76 6 L-73 10 L-70 3 L-67 -5 L-64 0 L-61 5 L-58 -3 L-55 -8 L-52 0 L-49 -3 L-46 -6 L-43 -2 L-40 2 L-37 -5 L-34 -8 L-31 -3 L-28 -10 L-25 -5 L-22 -12 L-19 -15 L-16 -10 L-13 -18 L-10 -20 L-7 -15 L-4 -20 L-1 -18 L2 -15 L3.5 3 L4.5 -68 L5.5 -20 L7 -25 L9 -30 L11 -20 L13 -25 L15 -15 L17 -20 L19 -8 L22 -12 L25 -2 L28 -8 L31 -5 L34 3 L37 -6 L40 -2 L43 -10 L46 -3 L49 2 L52 -5 L55 0 L58 -8 L61 -2 L64 3 L67 -5 L70 -8 L73 0 L76 -3 L79 -6 L82 2 L85 -4 L88 -1 L91 3 L94 -5 L97 0 L100 -3"/>
<path class="g" d="M-100 0 L-25 0 L-19 -3 L-15 -10 L-11 -18 L-7 -21 L-2 -20 L3 -18 L6 -15 L9 -18 L14 -21 L18 -18 L22 -10 L26 -3 L30 0 L100 0"/>
</svg>
<rect class="box" width="118" height="101"/><use href="#xt"/><use href="#yt1"/>
<text class="tl"><tspan x="-4" y="3.5">0.1</tspan><tspan x="-4" y="70.8">0.0</tspan></text>
<text class="n" x="7" y="14">L1551</text><text class="n" x="7" y="24">22.1 L<tspan dy="2" font-size="7">⊙</tspan></text><text class="n" x="7" y="35">140pc</text>
<text class="mr cg" x="111" y="14">X1</text><text class="mr cg" x="111" y="24">3.2 AU</text><text class="mr cg" x="111" y="35">80°</text>
</g>

<g id="p-l1489" transform="translate(325,603)">
<svg width="118" height="101" viewBox="-100 -100 200 150" preserveAspectRatio="none">
<path class="z" d="M-100 0H100M6 -200V60"/>
<path class="b" d="M-100 -4 L-97 2 L-94 -6 L-91 -3 L-88 5 L-85 -4 L-82 -8 L-79 0 L-76 -5 L-73 4 L-70 -2 L-67 -8 L-64 -3 L-61 2 L-58 -5 L-55 -12 L-52 -3 L-49 0 L-46 -8 L-43 -15 L-40 -5 L-37 -10 L-34 -3 L-31 -8 L-28 -15 L-25 -10 L-22 -20 L-19 -15 L-16 -25 L-13 -20 L-10 -30 L-7 -25 L-4 -35 L-1 -30 L2 -40 L4 -35 L5 -55 L6 -40 L8 -25 L10 -35 L12 -15 L14 -25 L16 -10 L18 -20 L20 -5 L22 -12 L25 0 L28 -6 L31 3 L34 8 L37 0 L40 10 L43 2 L46 -4 L49 5 L52 0 L55 -6 L58 5 L61 8 L64 0 L67 -4 L70 3 L73 8 L76 2 L79 -5 L82 4 L85 -2 L88 0 L91 -6 L94 2 L97 -3 L100 -15"/>
<path class="g" d="M-100 0 L-30 0 L-24 -3 L-18 -10 L-13 -22 L-8 -30 L-2 -33 L5 -34 L12 -32 L17 -25 L22 -12 L26 -4 L32 0 L100 0"/>
</svg>
<rect class="box" width="118" height="101"/><use href="#xt"/><use href="#yt1"/>
<text class="tl"><tspan x="-4" y="3.5">0.1</tspan><tspan x="-4" y="70.8">0.0</tspan></text>
<text class="n" x="7" y="14">L1489</text><text class="n" x="7" y="24">3.8 L<tspan dy="2" font-size="7">⊙</tspan></text><text class="n" x="7" y="35">140 pc</text>
<text class="mr cg" x="111" y="14">X1</text><text class="mr cg" x="111" y="24">6.4 AU</text><text class="mr cg" x="111" y="35">80°</text>
</g>

<g id="p-tmr1" transform="translate(472,603)">
<svg width="118" height="101" viewBox="-100 -100 200 150" preserveAspectRatio="none">
<path class="z" d="M-100 0H100M6 -200V60"/>
<path class="b" d="M-100 35 L-99 -8 L-97 5 L-95 -3 L-92 0 L-89 -8 L-86 3 L-83 -5 L-80 4 L-77 -10 L-74 0 L-71 -3 L-68 5 L-65 -2 L-62 3 L-59 -8 L-56 -2 L-53 2 L-50 -5 L-47 0 L-44 3 L-41 -6 L-38 0 L-35 -3 L-32 2 L-29 -5 L-26 3 L-23 -2 L-20 -8 L-17 0 L-14 -5 L-11 -3 L-8 -10 L-5 -8 L-2 -15 L0 -25 L2 -20 L4 -18 L6 -10 L8 -15 L10 -5 L12 -8 L15 -2 L18 -10 L21 0 L24 5 L27 -3 L30 -12 L33 0 L36 10 L39 -8 L42 5 L45 12 L48 0 L51 -5 L54 8 L57 -3 L60 5 L63 10 L66 -2 L69 3 L72 -5 L75 8 L78 -4 L81 2 L84 -6 L87 0 L90 5 L93 -4 L96 2 L99 0 L100 30"/>
<path class="u" d="M-100 0 L-40 0 L-20 -1 L-10 -3 L-4 -6 L0 -10 L4 -12 L7 -11 L10 -8 L15 -5 L22 -3 L30 -1 L45 0 L100 0"/>
</svg>
<rect class="box" width="118" height="101"/><use href="#xt"/><use href="#yt1"/>
<text class="tl"><tspan x="-4" y="3.5">0.1</tspan><tspan x="-4" y="70.8">0.0</tspan></text>
<text class="ax"><tspan x="14.75" y="113">-75</tspan><tspan x="59" y="113">0</tspan><tspan x="103.25" y="113">75</tspan></text><text class="ax" x="59" y="129">v (km/s)</text>
<text class="n" x="7" y="14">TMR1</text><text class="n" x="7" y="24">3.8 L<tspan dy="2" font-size="7">⊙</tspan></text><text class="n" x="7" y="35">140 pc</text>
<text class="mr cu" x="111" y="14">S1</text><text class="mr cu" x="111" y="24">25 AU</text><text class="mr cu" x="111" y="35">80°</text>
</g>

<g id="p-tmc1a" transform="translate(618,603)">
<svg width="118" height="101" viewBox="-100 -100 200 150" preserveAspectRatio="none">
<path class="z" d="M-100 0H100M5 -200V60"/>
<path class="b" d="M-100 -3 L-98 -6 L-97 10 L-95 -2 L-93 5 L-91 -5 L-89 -10 L-87 0 L-85 -8 L-83 -3 L-81 -12 L-79 -5 L-77 -2 L-75 -10 L-73 -3 L-71 -8 L-69 -15 L-67 -5 L-65 -12 L-63 -20 L-61 -10 L-59 -5 L-57 -15 L-55 -22 L-53 -8 L-51 -18 L-49 -10 L-47 -20 L-45 -12 L-43 -5 L-41 -18 L-39 -22 L-37 -8 L-35 -15 L-33 -5 L-31 -20 L-29 -12 L-27 -18 L-25 -25 L-23 -10 L-21 -20 L-19 -8 L-17 -15 L-15 -5 L-13 -18 L-11 -12 L-9 -20 L-7 -10 L-5 -15 L-3 -5 L-1 0 L1 -2 L3 -10 L5 -20 L7 -12 L9 -5 L11 0 L13 -18 L15 -8 L17 -15 L19 -2 L21 -12 L23 -20 L25 -5 L27 -15 L29 -3 L31 -18 L33 -8 L35 -2 L37 -15 L39 -10 L41 0 L43 -12 L45 -5 L47 -15 L49 -8 L51 -2 L53 -10 L55 -5 L57 -12 L59 0 L61 -8 L63 -3 L65 -10 L67 -5 L69 0 L71 -8 L73 -2 L75 -6 L77 3 L79 -5 L81 0 L83 -8 L85 2 L87 -4 L89 0 L91 -6 L93 1 L95 -3 L97 -8 L99 2 L100 -5"/>
<path class="u" d="M-100 0 L-70 -3 L-40 -8 L-15 -13 L-5 -15 L0 -13 L3 -10 L5 -18 L7 -12 L10 -14 L20 -12 L40 -9 L70 -4 L100 0"/>
</svg>
<rect class="box" width="118" height="101"/><use href="#xt"/><use href="#yt1"/>
<text class="tl"><tspan x="-4" y="3.5">0.1</tspan><tspan x="-4" y="70.8">0.0</tspan></text>
<text class="ax"><tspan x="14.75" y="113">-75</tspan><tspan x="59" y="113">0</tspan><tspan x="103.25" y="113">75</tspan></text><text class="ax" x="59" y="129">v (km/s)</text>
<text class="n" x="7" y="14">TMC1A</text><text class="n" x="7" y="24">2.7 L<tspan dy="2" font-size="7">⊙</tspan></text><text class="n" x="7" y="35">140 pc</text>
<text class="mr cu" x="111" y="14">S1</text><text class="mr cu" x="111" y="24">25 AU</text><text class="mr cu" x="111" y="35">30°</text>
</g>

<!-- Row 6 -->
<g id="p-rno91" transform="translate(31,719)">
<svg width="118" height="101" viewBox="-100 -100 200 150" preserveAspectRatio="none">
<path class="z" d="M-100 0H100M5 -200V60"/>
<path class="b" d="M-100 30 L-99 -3 L-97 5 L-95 -2 L-93 -6 L-91 3 L-89 -4 L-87 2 L-85 -5 L-83 0 L-81 4 L-79 -3 L-77 -8 L-75 2 L-73 -5 L-71 -1 L-69 -6 L-67 3 L-65 -3 L-63 -10 L-61 2 L-59 -4 L-57 -8 L-55 0 L-53 -3 L-51 5 L-49 -2 L-47 -6 L-45 0 L-43 -4 L-41 -18 L-39 -2 L-37 -8 L-35 0 L-33 -5 L-31 -12 L-29 -3 L-27 -8 L-25 2 L-23 -5 L-21 -15 L-19 -8 L-17 -3 L-15 -10 L-13 -5 L-11 -2 L-9 -8 L-7 -4 L-5 -10 L-3 -6 L-1 -12 L1 -8 L2 -25 L3 -43 L4 -35 L5 -30 L7 -25 L9 -28 L11 -15 L13 -20 L15 -10 L17 -8 L19 -15 L21 -18 L23 -5 L25 -12 L27 -20 L29 -3 L31 5 L33 -8 L35 -15 L37 0 L39 8 L41 -5 L43 -12 L45 0 L47 -6 L49 15 L51 -3 L53 -18 L55 0 L57 5 L59 -5 L61 10 L63 -3 L65 -8 L67 2 L69 -5 L71 8 L73 -2 L75 -6 L77 4 L79 0 L81 -3 L83 -8 L85 2 L87 -4 L89 0 L91 -6 L93 2 L95 -2 L97 -5 L99 0 L100 25"/>
<path class="u" d="M-100 0 L-30 0 L-15 -2 L-6 -6 L0 -11 L3 -14 L6 -15 L9 -12 L13 -8 L18 -4 L25 -1 L35 0 L100 0"/>
</svg>
<rect class="box" width="118" height="101"/><use href="#xt"/><use href="#yt1"/>
<text class="tl"><tspan x="-4" y="3.5">0.1</tspan><tspan x="-4" y="70.8">0.0</tspan></text>
<text class="ax" transform="translate(-20,50) rotate(-90)">T (K)</text>
<text class="ax"><tspan x="14.75" y="113">-75</tspan><tspan x="59" y="113">0</tspan><tspan x="103.25" y="113">75</tspan></text><text class="ax" x="59" y="129">v (km/s)</text>
<text class="n" x="7" y="14">RNO 91</text><text class="n" x="7" y="24">2.6 L<tspan dy="2" font-size="7">⊙</tspan></text><text class="n" x="7" y="35">125 pc</text>
<text class="mr cu" x="111" y="14">S1</text><text class="mr cu" x="111" y="24">25 AU</text><text class="mr cu" x="111" y="35">80°</text>
</g>

<g id="p-ophi63" transform="translate(178,719)">
<svg width="118" height="101" viewBox="-100 -100 200 150" preserveAspectRatio="none">
<path class="z" d="M-100 0H100M1 -200V60"/>
<path class="b" d="M-100 25 L-99 -2 L-97 0 L-95 -4 L-93 3 L-91 -3 L-89 -6 L-87 0 L-85 -5 L-83 -2 L-81 -8 L-79 -5 L-77 -10 L-75 -3 L-73 -7 L-71 -2 L-69 -5 L-67 0 L-65 -6 L-63 -3 L-61 5 L-59 8 L-57 3 L-55 7 L-53 0 L-51 4 L-49 10 L-47 5 L-45 12 L-43 8 L-41 3 L-39 8 L-37 5 L-35 10 L-33 5 L-31 0 L-29 -5 L-27 -3 L-25 -8 L-23 -5 L-21 -3 L-19 -8 L-17 -6 L-15 -10 L-13 -8 L-11 -4 L-9 -10 L-7 -6 L-5 -5 L-3 -8 L-1 -13 L1 -10 L3 -12 L5 -5 L7 -3 L9 -8 L11 -2 L13 -5 L15 0 L17 -6 L19 -3 L21 -8 L23 -2 L25 -10 L27 -5 L29 -8 L31 -3 L33 -6 L35 -10 L37 -4 L39 -8 L41 -2 L43 -6 L45 0 L47 -3 L49 2 L51 -5 L53 0 L55 -3 L57 -6 L59 0 L61 -4 L63 -2 L65 -5 L67 0 L69 -3 L71 -1 L73 -4 L75 0 L77 -2 L79 -5 L81 0 L83 -3 L85 -1 L87 -4 L89 0 L91 -2 L93 -3 L95 0 L97 -2 L100 -1"/>
<path class="u" d="M-100 0 L-60 0 L-45 -2 L-30 -5 L-15 -8 L0 -10 L5 -11 L15 -9 L25 -8 L35 -6 L45 -3 L60 -1 L100 0"/>
</svg>
<rect class="box" width="118" height="101"/><use href="#xt"/><use href="#yt1"/>
<text class="tl"><tspan x="-4" y="3.5">0.1</tspan><tspan x="-4" y="70.8">0.0</tspan></text>
<text class="ax"><tspan x="14.75" y="113">-75</tspan><tspan x="59" y="113">0</tspan><tspan x="103.25" y="113">75</tspan></text><text class="ax" x="59" y="129">v (km/s)</text>
<text class="n" x="7" y="14">Oph-I63</text><text class="n" x="7" y="24">1.0 L<tspan dy="2" font-size="7">⊙</tspan></text><text class="n" x="7" y="35">125 pc</text>
<text class="mr cu" x="111" y="14">S1</text><text class="mr cu" x="111" y="24">25 AU</text><text class="mr cu" x="111" y="35">60°</text>
</g>

<g id="p-tmc1" transform="translate(325,719)">
<svg width="118" height="101" viewBox="-100 -100 200 150" preserveAspectRatio="none">
<path class="z" d="M-100 0H100M5 -200V60"/>
<path class="b" d="M-100 -2 L-98 0 L-96 -3 L-94 2 L-92 -1 L-90 -4 L-88 0 L-86 3 L-84 -2 L-82 -5 L-80 0 L-78 2 L-76 -3 L-74 -1 L-72 -5 L-70 0 L-68 -3 L-66 -6 L-64 -2 L-62 -8 L-60 -3 L-58 -10 L-56 -5 L-54 -3 L-52 -8 L-50 -2 L-48 -6 L-46 -10 L-44 -5 L-42 -12 L-40 -8 L-38 -4 L-36 -10 L-34 -6 L-32 -14 L-30 -8 L-28 -12 L-26 -10 L-24 -15 L-22 -8 L-20 -12 L-18 -6 L-16 -14 L-14 -10 L-12 -16 L-10 -8 L-8 -14 L-6 -10 L-4 -18 L-2 -12 L0 -16 L2 -18 L3 -25 L5 -22 L7 -15 L9 -12 L11 -6 L13 -10 L15 -3 L17 -8 L19 -5 L21 0 L23 -6 L25 -10 L27 -3 L29 -8 L31 -2 L33 -6 L35 0 L37 -4 L39 -10 L41 -3 L43 -8 L45 -2 L47 -5 L49 8 L51 -2 L53 -4 L55 5 L57 -3 L59 0 L61 -5 L63 2 L65 -3 L67 0 L69 -4 L71 2 L73 -2 L75 0 L77 -3 L79 2 L81 -1 L83 -4 L85 0 L87 -2 L89 3 L91 -1 L93 15 L95 -3 L97 0 L99 -2 L100 0"/>
<path class="u" d="M-100 0 L-30 0 L-15 -2 L-6 -5 L0 -9 L3 -12 L6 -11 L9 -8 L14 -5 L20 -3 L30 -1 L40 0 L100 0"/>
</svg>
<rect class="box" width="118" height="101"/><use href="#xt"/><use href="#yt1"/>
<text class="tl"><tspan x="-4" y="3.5">0.1</tspan><tspan x="-4" y="70.8">0.0</tspan></text>
<text class="ax"><tspan x="14.75" y="113">-75</tspan><tspan x="59" y="113">0</tspan><tspan x="103.25" y="113">75</tspan></text><text class="ax" x="59" y="129">v (km/s)</text>
<text class="n" x="7" y="14">TMC1</text><text class="n" x="7" y="24">0.9 L<tspan dy="2" font-size="7">⊙</tspan></text><text class="n" x="7" y="35">140 pc</text>
<text class="mr cu" x="111" y="14">S1</text><text class="mr cu" x="111" y="24">25 AU</text><text class="mr cu" x="111" y="35">80°</text>
</g>
</svg>
